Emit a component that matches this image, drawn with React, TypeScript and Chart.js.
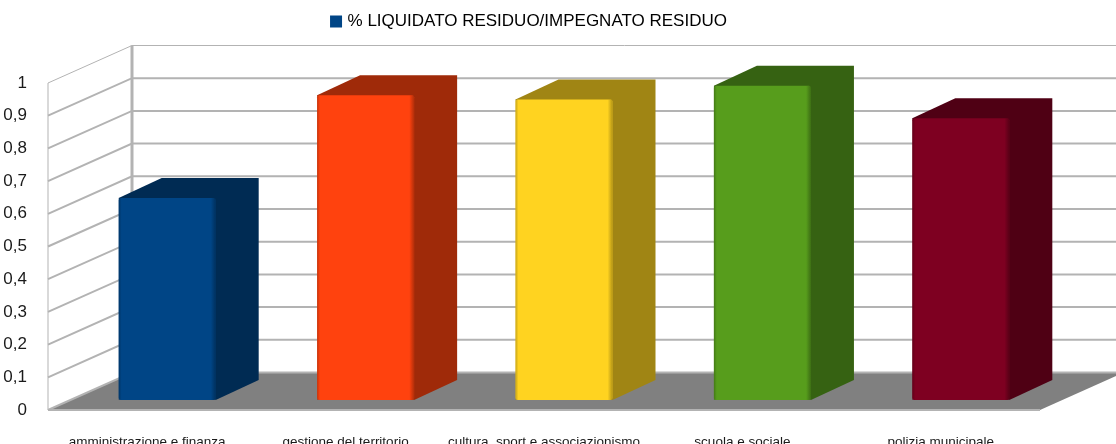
import React, { useEffect, useRef } from "react";
import { Chart, registerables } from "chart.js";

Chart.register(...registerables);

const categories = [
  "amministrazione e finanza",
  "gestione del territorio",
  "cultura, sport e associazionismo",
  "scuola e sociale",
  "polizia municipale",
];
const seriesName = "% LIQUIDATO RESIDUO/IMPEGNATO RESIDUO";
const values = [0.618, 0.932, 0.919, 0.961, 0.862];
const frontColors = ["#004586", "#ff420e", "#ffd320", "#579d1c", "#7e0021"];
const sideColors = ["#002b53", "#9f2a09", "#a08514", "#366212", "#4f0014"];

const WALL_DX = 84;
const WALL_DY = 37.5;
const BAR_DX = 20;
const BAR_DY = 10;
const SIDE_DX = 43;
const SIDE_DY = 20;
const GRID = "#b3b3b3";
const FONT = "'Liberation Sans', Arial, sans-serif";

const scene = {
  id: "scene",
  afterLayout(chart: any) {
    const legend = chart.legend;
    legend.top -= 43;
    legend.bottom -= 43;
    legend.left += 10;
    legend.right += 10;
  },
  beforeDatasetsDraw(chart: any) {
    const { ctx, chartArea: a, scales } = chart;
    const y = scales.y;
    ctx.save();
    // floor
    ctx.fillStyle = "#808080";
    ctx.beginPath();
    ctx.moveTo(a.left, a.bottom);
    ctx.lineTo(a.right, a.bottom);
    ctx.lineTo(a.right + WALL_DX, a.bottom - WALL_DY);
    ctx.lineTo(a.left + WALL_DX, a.bottom - WALL_DY);
    ctx.closePath();
    ctx.fill();
    ctx.strokeStyle = GRID;
    // walls
    y.ticks.forEach((t: any, i: number) => {
      const p = y.getPixelForValue(t.value);
      const isTop = i === y.ticks.length - 1;
      ctx.lineWidth = isTop ? 1 : 2;
      ctx.beginPath();
      ctx.moveTo(a.left, p);
      ctx.lineTo(a.left + WALL_DX, p - WALL_DY);
      ctx.lineTo(a.right + WALL_DX, p - WALL_DY);
      ctx.stroke();
    });
    ctx.lineWidth = 2;
    ctx.beginPath();
    ctx.moveTo(a.left, a.bottom);
    ctx.lineTo(a.right, a.bottom);
    ctx.stroke();
    ctx.lineWidth = 1;
    ctx.beginPath();
    ctx.moveTo(a.left, a.top);
    ctx.lineTo(a.left, a.bottom);
    ctx.stroke();
    ctx.lineWidth = 3;
    ctx.beginPath();
    ctx.moveTo(a.left + WALL_DX, a.top - WALL_DY);
    ctx.lineTo(a.left + WALL_DX, a.bottom - WALL_DY);
    ctx.stroke();
    // bar depth faces and offset into the room
    ctx.restore();
    ctx.save();
    ctx.translate(BAR_DX, -BAR_DY);
    chart.getDatasetMeta(0).data.forEach((bar: any, i: number) => {
      const left = bar.x - bar.width / 2;
      const right = bar.x + bar.width / 2;
      ctx.fillStyle = sideColors[i];
      ctx.beginPath();
      ctx.moveTo(left, bar.y);
      ctx.lineTo(left + SIDE_DX, bar.y - SIDE_DY);
      ctx.lineTo(right + SIDE_DX, bar.y - SIDE_DY);
      ctx.lineTo(right + SIDE_DX, bar.base - SIDE_DY);
      ctx.lineTo(right, bar.base);
      ctx.closePath();
      ctx.fill();
    });
  },
  afterDatasetsDraw(chart: any) {
    const { ctx } = chart;
    chart.getDatasetMeta(0).data.forEach((bar: any, i: number) => {
      const left = bar.x - bar.width / 2;
      const right = bar.x + bar.width / 2;
      const g = ctx.createLinearGradient(left, 0, right, 0);
      const shade = sideColors[i] + "99";
      const clear = sideColors[i] + "00";
      g.addColorStop(0, shade);
      g.addColorStop(0.03, clear);
      g.addColorStop(0.95, clear);
      g.addColorStop(1, sideColors[i] + "cc");
      ctx.fillStyle = g;
      ctx.fillRect(left, bar.y, bar.width, bar.base - bar.y);
    });
    ctx.restore();
  },
};

export default function App() {
  const ref = useRef<HTMLCanvasElement>(null);
  useEffect(() => {
    document.body.style.margin = "0";
    const chart = new Chart(ref.current as HTMLCanvasElement, {
      type: "bar",
      data: {
        labels: categories,
        datasets: [
          {
            label: seriesName,
            data: values,
            backgroundColor: frontColors,
            borderRadius: 2,
            borderSkipped: false,
            barPercentage: 0.489,
            categoryPercentage: 1,
            clip: false,
          },
        ],
      },
      plugins: [scene],
      options: {
        responsive: false,
        animation: false,
        layout: { padding: { top: 43, right: 76, left: 0, bottom: 0 } },
        plugins: {
          tooltip: { enabled: false },
          legend: {
            position: "top",
            labels: {
              padding: 13,
              boxWidth: 6,
              boxHeight: 6,
              color: "#1a1a1a",
              font: { family: FONT, size: 17 },
              generateLabels: () => [
                {
                  text: seriesName,
                  fillStyle: frontColors[0],
                  strokeStyle: frontColors[0],
                  lineWidth: 6,
                  datasetIndex: 0,
                },
              ],
            },
          },
        },
        scales: {
          x: {
            grid: { display: false },
            border: { display: false },
            ticks: {
              color: "#1a1a1a",
              font: { family: FONT, size: 13.5 },
              maxRotation: 0,
              autoSkip: false,
              padding: 16,
            },
            afterFit: (s: any) => {
              s.height = 34;
            },
          },
          y: {
            min: 0,
            max: 1,
            grid: { display: false },
            border: { display: false },
            ticks: {
              stepSize: 0.1,
              color: "#1a1a1a",
              padding: 13,
              font: { family: FONT, size: 17 },
              callback: (v: any) => String(Math.round(Number(v) * 10) / 10).replace(".", ","),
            },
            afterFit: (s: any) => {
              s.width = 48;
            },
          },
        },
      },
    } as any);
    return () => chart.destroy();
  }, []);
  return <canvas ref={ref} width={1116} height={444} style={{ display: "block" }} />;
}
